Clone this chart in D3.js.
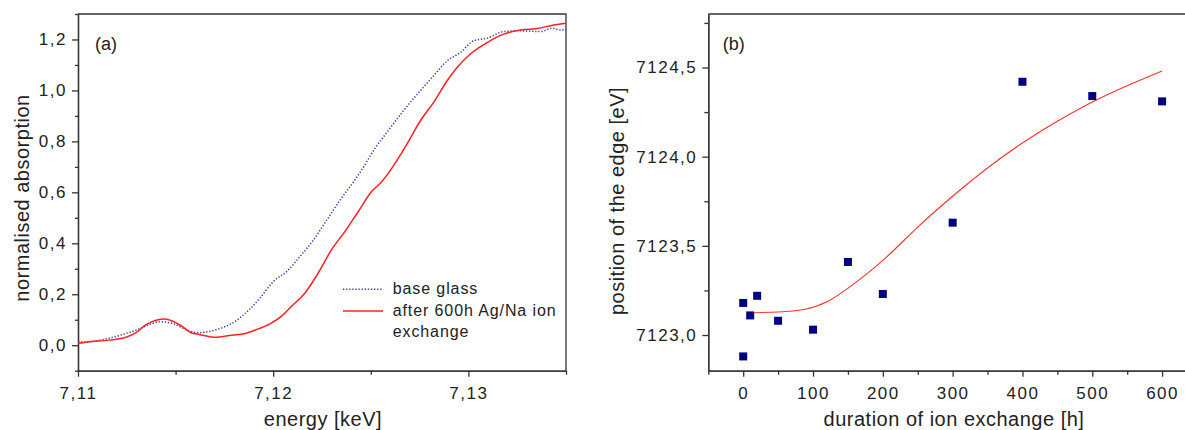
<!DOCTYPE html>
<html>
<head>
<meta charset="utf-8">
<script src="https://d3js.org/d3.v7.min.js"></script>
<style>
  body { margin: 0; background: #fff; }
  text { font-family: Arial, "Liberation Sans", sans-serif; fill: #222; }
  .tick text { font-size: 17px; letter-spacing: 1.5px; fill: #222; }
  .axis path, .axis line { stroke: #333; stroke-width: 1.3; }
</style>
</head>
<body>
<div id="chart"></div>
<script>
// (a) XANES spectra, energy in keV
var baseEnergy = [7.1100, 7.1104, 7.11127, 7.11229, 7.11297, 7.11366, 7.11417, 7.11486, 7.11554, 7.11614,
  7.11708, 7.11793, 7.11878, 7.11933, 7.12002, 7.12070, 7.12138, 7.12207, 7.12275, 7.12344, 7.12412,
  7.12455, 7.12514, 7.12583, 7.12668, 7.12754, 7.12822, 7.12891, 7.12959, 7.13027, 7.13096, 7.13181,
  7.13267, 7.13369, 7.13429, 7.13472, 7.1350];
var baseAbs = [0.016, 0.012, 0.022, 0.042, 0.059, 0.081, 0.092, 0.085, 0.061, 0.049,
  0.061, 0.088, 0.140, 0.186, 0.251, 0.290, 0.349, 0.414, 0.492, 0.571, 0.642,
  0.690, 0.764, 0.836, 0.921, 0.999, 1.058, 1.116, 1.149, 1.195, 1.205, 1.231,
  1.234, 1.231, 1.244, 1.237, 1.240];

var agEnergy = [7.1100, 7.1104, 7.11160, 7.11246, 7.11297, 7.11349, 7.1140, 7.11443, 7.11486, 7.11537,
  7.11579, 7.11622, 7.11708, 7.11776, 7.11845, 7.11913, 7.11981, 7.12043, 7.12094, 7.12163, 7.12231,
  7.12299, 7.12368, 7.12436, 7.12504, 7.12557, 7.12617, 7.12686, 7.12754, 7.12822, 7.12891, 7.12942,
  7.13010, 7.13096, 7.13181, 7.13267, 7.13352, 7.13437, 7.1350];
var agAbs = [0.007, 0.012, 0.020, 0.031, 0.049, 0.081, 0.098, 0.103, 0.094, 0.072,
  0.049, 0.042, 0.031, 0.038, 0.044, 0.061, 0.083, 0.114, 0.153, 0.205, 0.284,
  0.375, 0.447, 0.525, 0.603, 0.643, 0.705, 0.790, 0.881, 0.953, 1.038, 1.090,
  1.143, 1.188, 1.221, 1.237, 1.243, 1.257, 1.264];

// (b) edge position vs duration
var hours = [0, 0, 10, 20, 50, 100, 150, 200, 300, 400, 500, 600];
var edgePos = [7123.18, 7122.88, 7123.11, 7123.22, 7123.08, 7123.03, 7123.41, 7123.23, 7123.63, 7124.42, 7124.34, 7124.31];
var fitHours = [10, 50, 90, 120, 150, 200, 250, 300, 350, 400, 450, 500, 550, 600];
var fitPos = [7123.125, 7123.127, 7123.14, 7123.18, 7123.26, 7123.41, 7123.61, 7123.78, 7123.94, 7124.08, 7124.20, 7124.31, 7124.40, 7124.48];

var xTicksA = [7.11, 7.12, 7.13], xMinorA = [7.115, 7.125, 7.135];
var yTicksA = [0, 0.2, 0.4, 0.6, 0.8, 1.0, 1.2], yMinorA = [-0.1, 0.1, 0.3, 0.5, 0.7, 0.9, 1.1, 1.3];
var xTicksB = [0, 100, 200, 300, 400, 500, 600], xMinorB = [-50, 50, 150, 250, 350, 450, 550];
var yTicksB = [7123.0, 7123.5, 7124.0, 7124.5], yMinorB = [7123.25, 7123.75, 7124.25, 7124.75];

var comma = function (f) { return function (d) { return d3.format(f)(d).replace(".", ","); }; };

var svg = d3.select("#chart").append("svg")
  .attr("width", 1185).attr("height", 430);
svg.append("rect").attr("width", 1185).attr("height", 430).attr("fill", "#fff");

var plotTop = 14, plotBottom = 370.7;

// ---------- panel (a) ----------
var x = d3.scaleLinear().domain([7.11, 7.135]).range([78, 566]);
var y = d3.scaleLinear().domain([-0.1, 1.3]).range([plotBottom, plotTop]);

var gA = svg.append("g");
gA.append("g").attr("class", "axis").attr("transform", "translate(0," + plotBottom + ")")
  .call(d3.axisBottom(x).tickValues(xMinorA).tickSize(4).tickSizeOuter(0).tickFormat(""));
gA.append("g").attr("class", "axis").attr("transform", "translate(0," + plotBottom + ")")
  .call(d3.axisBottom(x).tickValues(xTicksA).tickSize(6).tickSizeOuter(0).tickPadding(10).tickFormat(comma(".2f")));
gA.append("g").attr("class", "axis").attr("transform", "translate(78,0)")
  .call(d3.axisLeft(y).tickValues(yMinorA).tickSize(3).tickSizeOuter(0).tickFormat(""));
gA.append("g").attr("class", "axis").attr("transform", "translate(78,0)")
  .call(d3.axisLeft(y).tickValues(yTicksA).tickSize(6).tickSizeOuter(0).tickPadding(5).tickFormat(comma(".1f")));
gA.append("path").attr("d", "M78," + plotTop + "H566V" + plotBottom)
  .attr("fill", "none").attr("stroke", "#333").attr("stroke-width", 1.3);

var line = d3.line().curve(d3.curveMonotoneX);
gA.append("path")
  .attr("d", line(baseEnergy.map(function (e, i) { return [x(e), y(baseAbs[i])]; })))
  .attr("fill", "none").attr("stroke", "#3b3ba8").attr("stroke-width", 1.5)
  .attr("stroke-dasharray", "1.3,1.8");
gA.append("path")
  .attr("d", line(agEnergy.map(function (e, i) { return [x(e), y(agAbs[i])]; })))
  .attr("fill", "none").attr("stroke", "#ff2020").attr("stroke-width", 1.5);

gA.append("text").attr("x", 95).attr("y", 50).style("font-size", "18px").text("(a)");

// legend
gA.append("line").attr("x1", 343).attr("x2", 382).attr("y1", 289.3).attr("y2", 289.3)
  .attr("stroke", "#3b3ba8").attr("stroke-width", 1.5).attr("stroke-dasharray", "1.3,1.8");
gA.append("line").attr("x1", 343).attr("x2", 383).attr("y1", 311).attr("y2", 311)
  .attr("stroke", "#ff2020").attr("stroke-width", 1.5);
gA.selectAll("text.leg")
  .data(["base glass", "after 600h Ag/Na ion", "exchange"])
  .enter().append("text")
  .attr("class", "leg")
  .attr("x", 392.7)
  .attr("y", function (d, i) { return 294.3 + i * 21.5; })
  .style("font-size", "16px").style("letter-spacing", "0.9px")
  .text(function (d) { return d; });

gA.append("text").attr("x", 323).attr("y", 426).attr("text-anchor", "middle")
  .style("font-size", "20px").style("letter-spacing", "0.5px").text("energy [keV]");
gA.append("text").attr("transform", "translate(29,198) rotate(-90)").attr("text-anchor", "middle")
  .style("font-size", "20px").style("letter-spacing", "0.5px").text("normalised absorption");

// ---------- panel (b) ----------
var x2 = d3.scaleLinear().domain([-50, 650]).range([708.3, 1197]);
var y2 = d3.scaleLinear().domain([7122.8, 7124.8]).range([plotBottom, plotTop]);

var gB = svg.append("g");
gB.append("g").attr("class", "axis").attr("transform", "translate(0," + plotBottom + ")")
  .call(d3.axisBottom(x2).tickValues(xMinorB).tickSize(4).tickSizeOuter(0).tickFormat(""));
gB.append("g").attr("class", "axis").attr("transform", "translate(0," + plotBottom + ")")
  .call(d3.axisBottom(x2).tickValues(xTicksB).tickSize(6).tickSizeOuter(0).tickPadding(10).tickFormat(d3.format("d")));
gB.append("g").attr("class", "axis").attr("transform", "translate(708.3,0)")
  .call(d3.axisLeft(y2).tickValues(yMinorB).tickSize(4).tickSizeOuter(0).tickFormat(""));
gB.append("g").attr("class", "axis").attr("transform", "translate(708.3,0)")
  .call(d3.axisLeft(y2).tickValues(yTicksB).tickSize(6).tickSizeOuter(0).tickPadding(5).tickFormat(comma(".1f")));
gB.append("path").attr("d", "M708.3," + plotTop + "H1197V" + plotBottom)
  .attr("fill", "none").attr("stroke", "#333").attr("stroke-width", 1.3);

gB.append("path")
  .attr("d", d3.line().curve(d3.curveBasis)(fitHours.map(function (h, i) { return [x2(h), y2(fitPos[i])]; })))
  .attr("fill", "none").attr("stroke", "#ff3030").attr("stroke-width", 1.1);

gB.selectAll("rect.pt")
  .data(hours)
  .enter().append("rect")
  .attr("class", "pt")
  .attr("x", function (d) { return x2(d) - 4; })
  .attr("y", function (d, i) { return y2(edgePos[i]) - 4; })
  .attr("width", 8).attr("height", 8)
  .attr("fill", "#000080");

gB.append("text").attr("x", 722.7).attr("y", 50).style("font-size", "18px").text("(b)");
gB.append("text").attr("x", 954).attr("y", 426).attr("text-anchor", "middle")
  .style("font-size", "20px").style("letter-spacing", "0.5px").text("duration of ion exchange [h]");
gB.append("text").attr("transform", "translate(624,201) rotate(-90)").attr("text-anchor", "middle")
  .style("font-size", "20px").style("letter-spacing", "0.5px").text("position of the edge [eV]");
</script>
</body>
</html>
